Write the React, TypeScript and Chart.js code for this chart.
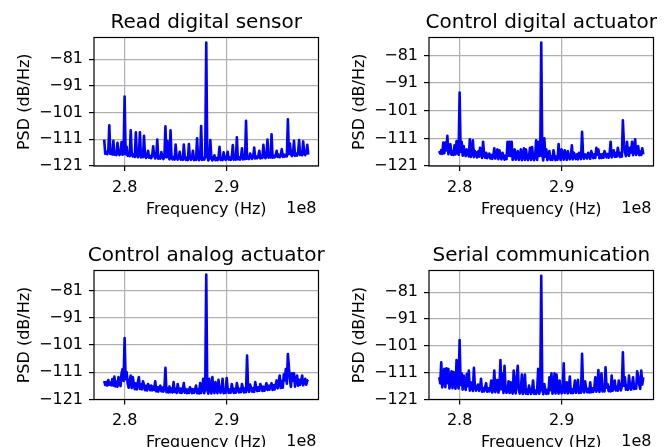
import React, { useEffect, useRef } from 'react';
import { Chart, registerables } from 'chart.js';

Chart.register(...registerables);

// ---------------- data ----------------
// PSD bins: 278.0 MHz .. 298.0 MHz, one bin every 0.1 MHz (201 bins)
const FREQ_START_MHZ = 278;
const FREQ_STEP_MHZ = 0.1;

const X_TICKS_MHZ = [280, 290];
const Y_TICKS_DB = [-121, -111, -101, -91, -81];
const X_LIMITS_MHZ = [277, 299];
const Y_MIN_DB = -121;

const TITLES = [
  'Read digital sensor',
  'Control digital actuator',
  'Control analog actuator',
  'Serial communication',
];
const Y_MAX_DB = [-72.9, -74.5, -73.7, -72.9];

const PSD_READ_DIGITAL_SENSOR = [
  -111.1, -116.4, -115.6, -116.6, -115.7, -105.8, -116.5, -115.8, -116.7, -111.6,
  -116.8, -115.9, -116.9, -112.3, -116.0, -116.9, -116.1, -112.0, -116.8, -116.2,
  -95.0, -116.6, -113.8, -117.2, -116.4, -117.3, -107.6, -116.5, -117.4, -116.6,
  -117.6, -108.4, -116.8, -117.7, -116.9, -108.4, -117.8, -116.9, -117.7, -109.7,
  -117.0, -118.0, -117.1, -115.3, -117.9, -117.2, -118.1, -117.1, -113.6, -117.3,
  -118.2, -117.4, -111.1, -118.3, -117.5, -118.2, -115.8, -117.5, -118.4, -117.6,
  -106.1, -117.7, -111.7, -117.6, -118.5, -107.6, -117.8, -118.5, -117.7, -118.6,
  -113.0, -117.8, -118.6, -117.9, -115.7, -118.6, -117.8, -118.7, -113.0, -117.9,
  -118.7, -117.9, -118.8, -112.8, -118.0, -118.7, -117.9, -115.3, -118.8, -118.0,
  -118.7, -110.6, -117.9, -118.8, -118.0, -106.0, -118.7, -117.9, -118.6, -117.6,
  -74.8, -117.3, -118.9, -118.2, -111.3, -118.1, -118.9, -118.0, -117.0, -118.8,
  -118.0, -118.8, -117.9, -113.8, -118.7, -118.0, -118.8, -115.9, -117.9, -118.7,
  -117.9, -115.7, -118.6, -117.8, -118.7, -117.9, -113.2, -118.6, -117.8, -118.6,
  -110.3, -118.5, -117.7, -118.6, -117.8, -114.4, -118.5, -117.7, -118.4, -104.1,
  -118.3, -117.5, -118.4, -116.3, -117.6, -118.3, -117.5, -114.1, -118.2, -117.4,
  -118.1, -117.3, -115.3, -118.2, -117.4, -118.0, -113.1, -117.3, -118.1, -117.2,
  -111.1, -117.9, -117.0, -117.8, -109.1, -117.9, -117.1, -117.8, -117.0, -115.3,
  -117.6, -116.8, -117.7, -116.9, -114.7, -117.6, -116.7, -117.5, -116.8, -117.4,
  -103.5, -116.6, -112.6, -116.5, -117.3, -116.4, -111.6, -117.2, -116.3, -117.1,
  -116.2, -111.3, -116.9, -116.1, -117.0, -111.8, -116.2, -116.9, -116.0, -113.1,
  -116.7,
];

const PSD_CONTROL_DIGITAL_ACTUATOR = [
  -115.6, -116.5, -115.2, -116.6, -112.5, -116.4, -112.5, -115.4, -110.1, -116.7,
  -115.6, -113.1, -116.9, -115.7, -117.0, -113.5, -116.8, -112.0, -115.8, -116.9,
  -94.4, -115.9, -112.2, -117.3, -113.8, -116.1, -117.4, -115.0, -116.0, -117.5,
  -111.3, -117.7, -116.3, -111.7, -117.8, -115.6, -116.4, -117.9, -115.8, -117.6,
  -114.4, -116.7, -118.1, -112.2, -116.8, -118.0, -116.2, -118.2, -116.9, -116.5,
  -118.3, -117.0, -118.4, -117.1, -114.6, -118.3, -117.0, -115.0, -118.5, -115.3,
  -117.2, -118.6, -116.2, -117.3, -118.7, -117.2, -118.5, -112.2, -117.3, -112.2,
  -117.4, -112.2, -118.8, -117.5, -115.0, -118.7, -117.4, -115.6, -118.8, -117.5,
  -115.0, -118.9, -117.5, -114.6, -118.8, -115.0, -117.6, -118.9, -117.5, -114.4,
  -118.8, -114.1, -117.6, -118.9, -117.5, -111.7, -118.8, -112.2, -117.4, -117.2,
  -76.3, -117.0, -119.0, -111.0, -117.6, -115.0, -118.9, -117.5, -115.6, -118.8,
  -117.5, -118.8, -115.3, -117.4, -118.9, -117.6, -118.7, -113.1, -117.5, -118.8,
  -115.0, -117.4, -118.7, -115.3, -117.3, -118.8, -115.6, -117.4, -118.6, -117.3,
  -113.5, -118.6, -116.2, -117.3, -118.5, -116.8, -118.6, -116.2, -117.2, -118.5,
  -108.6, -117.1, -118.4, -116.8, -117.0, -118.3, -116.2, -117.1, -118.4, -115.6,
  -116.9, -118.2, -116.8, -118.1, -114.4, -116.9, -115.0, -118.2, -116.8, -118.1,
  -116.7, -118.0, -115.6, -116.6, -117.9, -116.7, -118.0, -116.5, -112.2, -117.9,
  -116.4, -115.3, -117.7, -116.3, -117.6, -114.4, -116.4, -117.7, -116.2, -117.6,
  -104.5, -113.1, -116.1, -117.4, -112.2, -116.0, -117.3, -114.4, -116.1, -112.2,
  -117.1, -115.8, -111.3, -117.0, -115.7, -113.8, -117.1, -115.8, -117.0, -114.6,
  -116.8,
];

const PSD_CONTROL_ANALOG_ACTUATOR = [
  -114.2, -115.7, -114.6, -115.9, -113.9, -115.6, -114.8, -115.8, -113.5, -115.9,
  -112.6, -116.2, -114.5, -116.3, -112.8, -115.0, -116.1, -111.4, -109.8, -114.2,
  -98.5, -113.6, -111.0, -115.2, -116.7, -114.1, -112.2, -116.8, -112.8, -115.3,
  -117.2, -115.1, -117.3, -114.6, -112.8, -117.1, -115.4, -117.3, -114.3, -115.6,
  -117.6, -116.0, -117.7, -115.3, -116.2, -117.6, -115.9, -117.7, -116.3, -117.5,
  -114.3, -118.0, -116.5, -118.1, -116.7, -115.9, -118.0, -116.6, -118.1, -116.8,
  -109.4, -118.3, -116.9, -118.4, -116.2, -118.3, -117.0, -118.4, -114.6, -118.2,
  -117.1, -118.6, -115.3, -117.2, -118.5, -117.0, -118.6, -117.3, -115.0, -118.5,
  -117.2, -118.7, -117.4, -118.6, -116.5, -117.3, -118.7, -117.2, -118.6, -117.4,
  -115.9, -118.7, -117.3, -118.8, -115.0, -118.6, -117.4, -113.4, -118.7, -117.2,
  -75.2, -117.5, -118.9, -113.4, -117.4, -118.8, -112.8, -117.3, -118.7, -114.6,
  -117.3, -118.7, -113.8, -117.4, -118.6, -117.2, -113.4, -118.7, -117.3, -118.6,
  -113.1, -117.2, -118.6, -117.3, -118.5, -115.3, -117.2, -118.6, -117.1, -118.5,
  -115.0, -117.0, -118.4, -117.1, -118.3, -115.3, -117.0, -118.4, -116.9, -118.3,
  -104.9, -116.8, -118.2, -115.5, -116.9, -118.1, -116.8, -118.2, -114.6, -116.7,
  -117.9, -116.5, -117.8, -115.3, -116.4, -117.9, -116.3, -117.8, -116.5, -115.0,
  -117.5, -116.0, -117.4, -115.9, -115.0, -117.5, -115.8, -117.3, -115.6, -114.0,
  -116.9, -114.6, -112.2, -116.8, -114.2, -116.7, -111.8, -114.0, -109.8, -115.2,
  -104.3, -109.2, -113.6, -116.4, -111.4, -114.1, -111.4, -116.3, -113.5, -112.2,
  -115.9, -113.8, -115.7, -114.0, -112.2, -115.8, -114.3, -113.4, -115.6, -114.1,
  -113.8,
];

const PSD_SERIAL_COMMUNICATION = [
  -112.7, -115.0, -107.1, -116.5, -113.8, -109.6, -116.4, -109.4, -114.9, -109.6,
  -116.9, -114.5, -110.5, -116.8, -110.8, -115.2, -117.0, -106.3, -115.0, -116.9,
  -98.8, -115.6, -111.2, -117.3, -112.1, -115.8, -117.4, -111.5, -116.0, -110.2,
  -117.7, -114.6, -116.3, -117.8, -109.2, -116.2, -117.7, -116.4, -115.4, -117.8,
  -116.6, -113.3, -118.1, -116.7, -118.0, -116.5, -114.9, -118.1, -116.8, -118.0,
  -116.9, -113.9, -118.4, -117.0, -110.2, -118.3, -116.8, -113.7, -118.4, -117.1,
  -106.3, -117.2, -111.2, -118.6, -108.4, -117.1, -118.5, -117.3, -114.2, -118.6,
  -114.6, -117.4, -118.8, -110.2, -117.3, -118.7, -112.1, -108.4, -117.5, -118.8,
  -117.5, -111.7, -118.9, -117.6, -111.7, -118.8, -117.4, -118.9, -115.8, -117.6,
  -118.9, -117.5, -113.9, -118.8, -117.6, -118.9, -117.4, -109.6, -118.8, -117.3,
  -74.9, -117.2, -119.0, -115.2, -117.5, -118.9, -117.4, -118.8, -112.7, -117.5,
  -111.2, -118.8, -117.4, -111.2, -118.7, -111.7, -117.3, -118.8, -113.9, -117.4,
  -118.7, -117.3, -107.5, -118.6, -117.2, -114.6, -118.7, -117.3, -112.4, -118.6,
  -117.2, -118.6, -117.1, -113.9, -118.5, -117.2, -113.7, -118.6, -117.0, -118.5,
  -104.0, -117.0, -118.4, -114.2, -116.9, -118.3, -117.0, -118.4, -114.6, -118.3,
  -116.8, -118.2, -116.7, -112.7, -118.1, -116.8, -110.0, -118.2, -116.6, -111.2,
  -118.0, -116.5, -118.0, -109.0, -116.6, -115.2, -117.9, -116.4, -118.0, -112.1,
  -117.7, -116.2, -113.9, -117.6, -116.3, -117.7, -113.9, -116.1, -117.6, -116.2,
  -103.4, -115.9, -112.7, -117.3, -115.8, -117.4, -112.1, -115.9, -117.3, -115.7,
  -112.7, -117.1, -115.6, -117.0, -110.5, -112.4, -115.5, -117.1, -110.2, -115.4,
  -112.7,
];

const SERIES = [
  PSD_READ_DIGITAL_SENSOR,
  PSD_CONTROL_DIGITAL_ACTUATOR,
  PSD_CONTROL_ANALOG_ACTUATOR,
  PSD_SERIAL_COMMUNICATION,
];

// ---------------- layout ----------------
const W = 671;
const H = 447;
const AXIS_W = 60; // fixed y-axis box width
const AXIS_H = 40; // fixed x-axis box height
// chart-area boxes [left, top, right, bottom]
const BOXES = [
  [94, 37.5, 318.5, 166],
  [429, 37.5, 653.5, 166],
  [94, 270.5, 318.5, 399.5],
  [429, 270.5, 653.5, 399.5],
];
const FONT = "'DejaVu Sans', sans-serif";

function makeTextPlugin(title: string) {
  return {
    id: 'panelText',
    afterDraw(chart: any) {
      const { ctx, chartArea: a } = chart;
      ctx.save();
      // spines
      ctx.strokeStyle = '#000';
      ctx.lineWidth = 1.2;
      ctx.strokeRect(a.left, a.top, a.right - a.left, a.bottom - a.top);
      ctx.fillStyle = '#000';
      ctx.textBaseline = 'alphabetic';
      const cx = (a.left + a.right) / 2;
      // title
      ctx.textAlign = 'center';
      ctx.font = `20px ${FONT}`;
      ctx.fillText(title, cx, a.top - 10);
      // x label
      ctx.font = `16px ${FONT}`;
      ctx.fillText('Frequency (Hz)', cx, a.bottom + 47.5);
      // offset text
      ctx.textAlign = 'right';
      ctx.font = `16px ${FONT}`;
      ctx.fillText('1e8', a.right - 2, a.bottom + 46.5);
      // y label
      ctx.translate(a.left - 65, (a.top + a.bottom) / 2);
      ctx.rotate(-Math.PI / 2);
      ctx.textAlign = 'center';
      ctx.font = `16px ${FONT}`;
      ctx.fillText('PSD (dB/Hz)', 0, 0);
      ctx.restore();
    },
  };
}

function Panel({ index }: { index: number }) {
  const ref = useRef<HTMLCanvasElement | null>(null);
  useEffect(() => {
    if (!ref.current) return;
    const values = SERIES[index];
    const pts = values.map((v, i) => ({ x: FREQ_START_MHZ + i * FREQ_STEP_MHZ, y: v }));
    const [l, t, r, b] = BOXES[index];
    const gridCommon = {
      color: '#b0b0b0',
      lineWidth: 1.2,
      tickColor: '#000',
      tickLength: 5,
      tickWidth: 1.2,
      drawTicks: true,
    };
    const chart = new Chart(ref.current, {
      type: 'line',
      data: {
        datasets: [
          {
            data: pts,
            borderColor: '#0000ff',
            borderWidth: 2.6,
            pointRadius: 0,
            fill: false,
            tension: 0,
            borderJoinStyle: 'round',
          } as any,
        ],
      },
      options: {
        responsive: false,
        animation: false,
        devicePixelRatio: 1,
        events: [],
        layout: {
          padding: {
            left: l - AXIS_W,
            top: t,
            right: W - r,
            bottom: H - b - AXIS_H,
          },
        },
        plugins: {
          legend: { display: false },
          tooltip: { enabled: false },
          title: { display: false },
        },
        scales: {
          x: {
            type: 'linear',
            min: X_LIMITS_MHZ[0],
            max: X_LIMITS_MHZ[1],
            bounds: 'data',
            afterBuildTicks: (s: any) => {
              s.ticks = X_TICKS_MHZ.map((v) => ({ value: v }));
            },
            afterFit: (s: any) => {
              s.height = AXIS_H;
            },
            grid: gridCommon,
            border: { display: false },
            ticks: {
              autoSkip: false,
              maxRotation: 0,
              padding: 7,
              color: '#000',
              font: { family: FONT, size: 16 },
              callback: (v: any) => (Number(v) / 100).toFixed(1),
            },
          },
          y: {
            type: 'linear',
            min: Y_MIN_DB,
            max: Y_MAX_DB[index],
            bounds: 'data',
            afterBuildTicks: (s: any) => {
              s.ticks = Y_TICKS_DB.map((v) => ({ value: v }));
            },
            afterFit: (s: any) => {
              s.width = AXIS_W;
            },
            grid: gridCommon,
            border: { display: false },
            ticks: {
              autoSkip: false,
              padding: 6,
              color: '#000',
              font: { family: FONT, size: 16 },
              callback: (v: any) => (Number(v) < 0 ? '\u2212' : '') + Math.abs(Number(v)),
            },
          },
        },
      } as any,
      plugins: [makeTextPlugin(TITLES[index])],
    });
    return () => chart.destroy();
  }, [index]);
  return (
    <canvas
      ref={ref}
      width={W}
      height={H}
      style={{ position: 'absolute', left: 0, top: 0, width: W, height: H, display: 'block' }}
    />
  );
}

export default function App() {
  return (
    <div
      style={{
        position: 'absolute',
        left: 0,
        top: 0,
        width: W,
        height: H,
        background: '#fff',
        overflow: 'hidden',
      }}
    >
      {[0, 1, 2, 3].map((i) => (
        <Panel key={i} index={i} />
      ))}
    </div>
  );
}
